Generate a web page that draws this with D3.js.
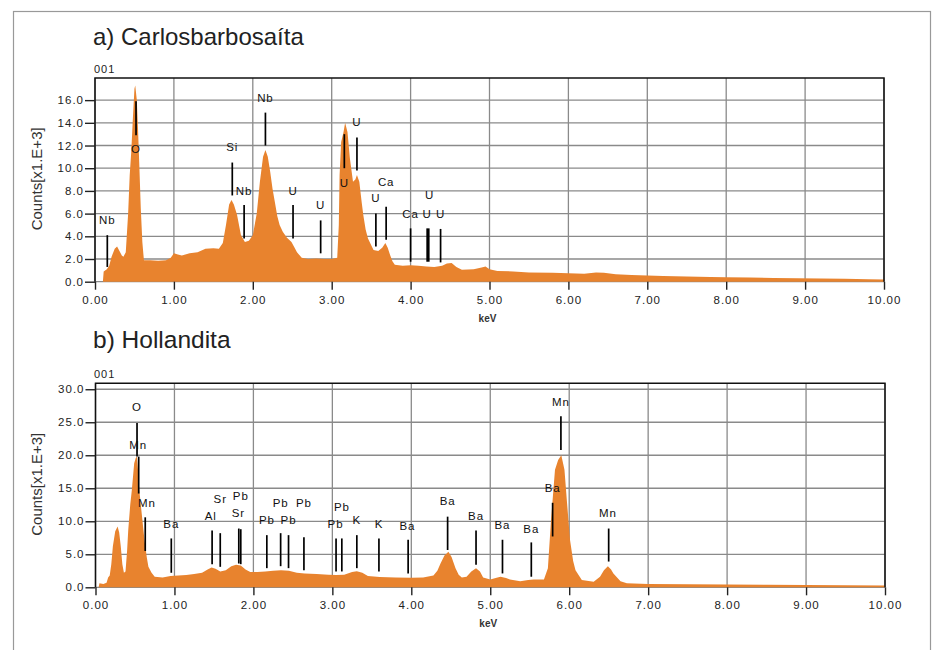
<!DOCTYPE html>
<html>
<head>
<meta charset="utf-8">
<script src="https://cdn.jsdelivr.net/npm/d3@7"></script>
<style>
  body { margin: 0; background: #fff; }
  svg { display: block; font-family: "Liberation Sans", Arial, sans-serif; }
</style>
</head>
<body>
<svg width="935" height="650"></svg>
<script>
// spectrum a) Carlosbarbosaita : [keV, counts x1000]
const spectrumA = [
  [0.00,0],[0.10,0],[0.11,0.9],[0.15,1.1],[0.18,1.4],[0.21,2.2],[0.25,2.9],[0.28,3.1],[0.31,2.7],
  [0.34,2.3],[0.36,2.2],[0.39,2.6],[0.42,6.0],[0.44,9.4],[0.46,11.5],[0.48,14.4],[0.50,17.0],
  [0.51,17.3],[0.53,16.0],[0.545,13.5],[0.56,10.6],[0.58,6.5],[0.60,3.5],[0.62,1.9],[0.70,1.9],
  [0.80,1.85],[0.90,1.9],[0.96,2.1],[1.00,2.5],[1.05,2.4],[1.10,2.3],[1.20,2.5],[1.30,2.6],
  [1.40,2.9],[1.50,2.95],[1.57,2.9],[1.62,3.4],[1.66,5.0],[1.70,6.8],[1.73,7.2],[1.76,6.8],
  [1.80,5.9],[1.85,4.1],[1.90,3.5],[1.95,3.6],[2.00,4.1],[2.05,6.0],[2.09,8.8],[2.13,11.0],
  [2.16,11.6],[2.19,11.0],[2.22,9.7],[2.25,8.2],[2.28,7.0],[2.31,5.8],[2.34,5.0],[2.38,4.4],
  [2.43,3.9],[2.49,3.5],[2.53,3.0],[2.56,2.6],[2.62,2.1],[2.70,2.0],[2.80,2.05],[2.90,2.0],
  [3.00,2.0],[3.07,2.1],[3.09,5.0],[3.10,9.4],[3.12,12.3],[3.15,13.2],[3.17,14.0],[3.20,13.2],
  [3.23,10.9],[3.27,8.8],[3.30,9.0],[3.32,9.4],[3.35,8.8],[3.38,7.0],[3.40,5.9],[3.43,4.6],
  [3.46,3.8],[3.53,2.8],[3.59,2.7],[3.64,3.0],[3.68,3.4],[3.71,3.0],[3.74,2.35],[3.77,1.8],
  [3.80,1.5],[3.90,1.4],[4.00,1.45],[4.10,1.4],[4.20,1.35],[4.30,1.3],[4.40,1.4],[4.46,1.6],
  [4.52,1.65],[4.58,1.3],[4.65,1.05],[4.80,1.1],[4.90,1.25],[4.95,1.35],[5.00,1.1],[5.10,0.95],
  [5.30,0.9],[5.50,0.8],[5.80,0.78],[6.00,0.75],[6.20,0.7],[6.35,0.8],[6.45,0.78],[6.60,0.65],
  [6.80,0.6],[7.00,0.55],[7.20,0.5],[7.50,0.45],[7.80,0.42],[8.00,0.4],[8.30,0.38],[8.60,0.32],
  [8.90,0.3],[9.20,0.28],[9.50,0.25],[9.80,0.22],[10.00,0.2]
];

// spectrum b) Hollandita
const spectrumB = [
  [0.00,0],[0.04,0],[0.05,0.6],[0.10,0.5],[0.14,0.7],[0.16,1.5],[0.18,1.8],[0.20,3.5],[0.22,6.2],
  [0.25,8.5],[0.28,9.2],[0.30,8.3],[0.32,6.2],[0.34,3.5],[0.36,2.2],[0.38,2.4],[0.40,5.5],
  [0.415,8.7],[0.44,12.5],[0.46,14.7],[0.49,18.8],[0.51,19.6],[0.525,19.8],[0.54,17.5],
  [0.555,14.7],[0.585,11.2],[0.62,7.2],[0.65,4.5],[0.67,3.1],[0.71,2.2],[0.75,1.6],[0.85,1.5],
  [0.95,1.7],[1.05,1.8],[1.15,1.85],[1.25,2.0],[1.35,2.2],[1.42,2.7],[1.47,3.0],[1.52,2.8],
  [1.58,2.4],[1.65,2.6],[1.72,3.2],[1.78,3.4],[1.84,3.3],[1.90,2.7],[1.96,2.3],[2.05,2.3],
  [2.15,2.4],[2.25,2.5],[2.35,2.6],[2.45,2.5],[2.55,2.2],[2.65,2.1],[2.80,2.0],[2.95,1.9],
  [3.05,1.85],[3.15,1.9],[3.25,2.3],[3.31,2.45],[3.38,2.2],[3.45,1.7],[3.60,1.55],[3.80,1.5],
  [4.00,1.45],[4.15,1.5],[4.28,1.8],[4.33,2.5],[4.37,3.6],[4.42,4.8],[4.47,5.4],[4.51,4.6],
  [4.56,2.9],[4.60,1.9],[4.64,1.5],[4.70,1.6],[4.76,2.4],[4.82,2.9],[4.87,2.4],[4.91,1.5],
  [5.00,1.2],[5.08,1.45],[5.13,1.6],[5.20,1.4],[5.25,1.2],[5.38,0.9],[5.48,1.1],[5.55,1.2],
  [5.68,1.2],[5.73,2.9],[5.77,10.2],[5.82,17.8],[5.86,19.3],[5.90,20.0],[5.94,17.8],[5.97,13.2],
  [6.01,7.2],[6.05,4.0],[6.08,2.6],[6.16,1.1],[6.31,0.85],[6.39,1.6],[6.44,2.6],[6.49,3.2],
  [6.53,2.7],[6.56,2.1],[6.65,0.9],[6.73,0.6],[7.00,0.5],[7.50,0.45],[8.00,0.42],[8.50,0.4],
  [9.00,0.35],[9.50,0.3],[10.00,0.28]
];

// element markers: [label, keV, line bottom, line top, label keV, label counts]
const markersA = [
  ["Nb",0.156,1.3,4.1,0.156,5.4],
  ["O",0.52,12.9,15.9,0.52,11.7],
  ["Si",1.74,7.6,10.5,1.74,11.9],
  ["Nb",1.89,3.8,6.75,1.89,8.0],
  ["Nb",2.16,12.0,14.9,2.16,16.2],
  ["U",2.51,3.8,6.75,2.51,8.0],
  ["U",2.86,2.5,5.4,2.86,6.8],
  ["U",3.16,10.0,13.0,3.16,8.7],
  ["U",3.32,9.8,12.7,3.32,14.1],
  ["U",3.56,3.1,6.0,3.56,7.35],
  ["Ca",3.69,3.7,6.6,3.69,8.8],
  ["Ca",4.00,1.76,4.7,4.00,6.0],
  ["U",4.21,1.76,4.7,4.21,6.0],
  ["U",4.23,1.76,4.7,4.24,7.6],
  ["U",4.38,1.7,4.65,4.38,6.0]
];

const markersB = [
  ["O",0.526,19.8,24.9,0.526,27.3],
  ["Mn",0.547,14.2,19.8,0.54,21.5],
  ["Mn",0.63,5.5,10.6,0.65,12.8],
  ["Ba",0.96,2.2,7.4,0.96,9.6],
  ["Al",1.477,3.5,8.6,1.46,10.8],
  ["Sr",1.58,3.1,8.2,1.58,13.4],
  ["Sr",1.815,3.6,8.9,1.81,11.3],
  ["Pb",1.84,3.5,8.8,1.84,13.8],
  ["Pb",2.17,2.9,7.9,2.17,10.2],
  ["Pb",2.345,3.2,8.2,2.345,12.8],
  ["Pb",2.445,2.9,7.9,2.445,10.2],
  ["Pb",2.64,2.6,7.6,2.64,12.8],
  ["Pb",3.047,2.4,7.4,3.04,9.6],
  ["Pb",3.12,2.4,7.4,3.12,12.1],
  ["K",3.31,2.9,7.9,3.31,10.2],
  ["K",3.59,2.4,7.4,3.59,9.6],
  ["Ba",3.96,2.1,7.2,3.95,9.3],
  ["Ba",4.46,5.65,10.7,4.46,13.0],
  ["Ba",4.82,3.4,8.6,4.82,10.8],
  ["Ba",5.155,2.1,7.2,5.155,9.5],
  ["Ba",5.52,1.6,6.8,5.52,8.9],
  ["Ba",5.79,7.7,12.8,5.79,15.1],
  ["Mn",5.895,20.8,25.9,5.895,28.1],
  ["Mn",6.50,3.9,8.9,6.49,11.2]
];

const xTicks = [0,1,2,3,4,5,6,7,8,9,10];
const yTicksA = [0,2,4,6,8,10,12,14,16];
const yTicksB = [0,5,10,15,20,25,30];

let svg = d3.select("svg");

// outer frame
svg.append("rect")
  .attr("x", 13.5).attr("y", 11.5)
  .attr("width", 917).attr("height", 660)
  .attr("fill", "none")
  .attr("stroke", "#999")
  .attr("stroke-width", 1.2);

function drawPanel(opt) {
  let x = d3.scaleLinear().domain([0, 10]).range([opt.left, opt.right]),
    y = d3.scaleLinear().domain([0, opt.yMax]).range([opt.bottom, opt.top]);

  let g = svg.append("g");

  // title and header
  g.append("text")
    .attr("x", 93).attr("y", opt.titleY)
    .attr("font-size", opt.titleSize)
    .attr("fill", "#222")
    .text(opt.title);

  g.append("text")
    .attr("x", 94).attr("y", opt.top - 5)
    .attr("font-size", 11)
    .attr("letter-spacing", 1)
    .attr("fill", "#222")
    .text("001");

  // grid
  g.append("g").selectAll("line")
    .data(xTicks)
    .enter().append("line")
    .attr("x1", d => x(d)).attr("x2", d => x(d))
    .attr("y1", opt.top).attr("y2", opt.bottom)
    .attr("stroke", "#8a8a8a").attr("stroke-width", 1.3);

  g.append("g").selectAll("line")
    .data(opt.yTicks)
    .enter().append("line")
    .attr("x1", opt.left).attr("x2", opt.right)
    .attr("y1", d => y(d)).attr("y2", d => y(d))
    .attr("stroke", "#8a8a8a").attr("stroke-width", 1.3);

  // spectrum
  let area = d3.area()
    .x(d => x(d[0]))
    .y0(y(0))
    .y1(d => y(d[1]));

  g.append("path")
    .datum(opt.spectrum)
    .attr("d", area)
    .attr("fill", "#e8832e");

  // plot border
  g.append("path")
    .attr("d", "M" + opt.left + "," + opt.bottom + "V" + opt.top + "H" + opt.right + "V" + opt.bottom)
    .attr("fill", "none")
    .attr("stroke", "#111")
    .attr("stroke-width", 1.5);

  // markers
  let mk = g.append("g").selectAll(".marker")
    .data(opt.markers)
    .enter().append("g")
    .attr("class", "marker");

  mk.append("line")
    .attr("x1", d => x(d[1])).attr("x2", d => x(d[1]))
    .attr("y1", d => y(d[2])).attr("y2", d => y(d[3]))
    .attr("stroke", "#000")
    .attr("stroke-width", 1.7);

  mk.append("text")
    .attr("x", d => x(d[4])).attr("y", d => y(d[5]))
    .attr("dy", "0.35em")
    .attr("text-anchor", "middle")
    .attr("font-size", 11.5)
    .attr("letter-spacing", 0.9)
    .attr("fill", "#111")
    .text(d => d[0]);

  // axes
  let xAxis = g.append("g")
    .attr("transform", "translate(0," + opt.bottom + ")")
    .call(d3.axisBottom(x).tickValues(xTicks).tickFormat(d3.format(".2f")).tickSize(8).tickPadding(6));

  let yAxis = g.append("g")
    .attr("transform", "translate(" + opt.left + ",0)")
    .call(d3.axisLeft(y).tickValues(opt.yTicks).tickFormat(d3.format(".1f")).tickSize(10).tickPadding(1));

  [xAxis, yAxis].forEach(a => {
    a.select(".domain").remove();
    a.selectAll("line").attr("stroke", "#222").attr("stroke-width", 1.4);
    a.selectAll("text")
      .attr("font-size", 11.5)
      .attr("letter-spacing", 1)
      .attr("fill", "#222")
      .style("font-family", "'Liberation Sans', Arial, sans-serif");
  });

  g.append("text")
    .attr("x", (opt.left + opt.right) / 2 - 2).attr("y", opt.bottom + 40)
    .attr("text-anchor", "middle")
    .attr("font-size", 10)
    .attr("font-weight", "bold")
    .attr("fill", "#333")
    .text("keV");

  g.append("text")
    .attr("transform", "translate(42," + ((opt.top + opt.bottom) / 2 - 1) + ") rotate(-90)")
    .attr("text-anchor", "middle")
    .attr("font-size", 15)
    .attr("fill", "#333")
    .text("Counts[x1.E+3]");
}

drawPanel({
  title: "a) Carlosbarbosaíta",
  titleY: 45,
  titleSize: 24,
  spectrum: spectrumA,
  markers: markersA,
  yTicks: yTicksA,
  yMax: 17.95,
  left: 95, right: 884, top: 78, bottom: 281.7
});

drawPanel({
  title: "b) Hollandita",
  titleY: 348,
  titleSize: 24.5,
  spectrum: spectrumB,
  markers: markersB,
  yTicks: yTicksB,
  yMax: 30.9,
  left: 95.5, right: 885, top: 383.3, bottom: 587.3
});
</script>
</body>
</html>
